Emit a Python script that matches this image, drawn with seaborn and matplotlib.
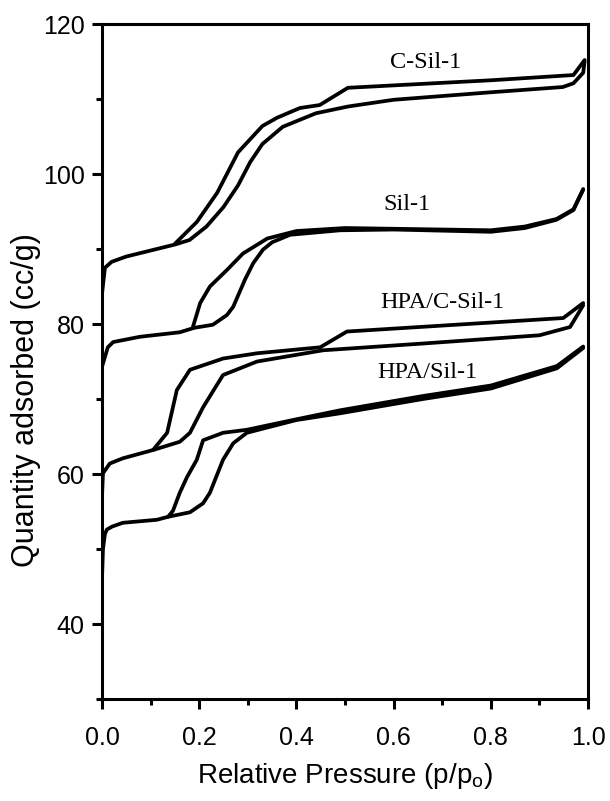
import numpy as np
import pandas as pd
import matplotlib
matplotlib.use("Agg")
import matplotlib.pyplot as plt
import seaborn as sns
from matplotlib.ticker import MultipleLocator

# ---- data ----
csil_ads_p = [0.0, 0.006, 0.02, 0.05, 0.10, 0.15, 0.18, 0.215, 0.25, 0.28, 0.305, 0.33, 0.372, 0.44, 0.506, 0.6, 0.8, 0.948, 0.97, 0.99, 0.993]
csil_ads_q = [84.0, 87.5, 88.3, 89.0, 89.8, 90.6, 91.2, 93.0, 95.6, 98.5, 101.6, 104.0, 106.3, 108.1, 109.0, 109.9, 110.9, 111.6, 112.1, 113.5, 115.0]
csil_des_p = [0.993, 0.97, 0.8, 0.506, 0.448, 0.407, 0.36, 0.33, 0.28, 0.237, 0.195, 0.15]
csil_des_q = [115.2, 113.2, 112.5, 111.5, 109.2, 108.8, 107.5, 106.4, 102.9, 97.5, 93.6, 90.7]

sil_ads_p = [0.0, 0.012, 0.023, 0.078, 0.16, 0.19, 0.228, 0.257, 0.27, 0.294, 0.311, 0.331, 0.35, 0.387, 0.49, 0.6, 0.8, 0.87, 0.935, 0.97, 0.99]
sil_ads_q = [74.3, 76.9, 77.6, 78.3, 78.9, 79.5, 79.9, 81.2, 82.3, 85.9, 88.1, 89.9, 90.9, 91.9, 92.5, 92.6, 92.3, 92.8, 93.9, 95.2, 97.9]
sil_des_p = [0.99, 0.97, 0.935, 0.87, 0.8, 0.6, 0.5, 0.4, 0.34, 0.29, 0.257, 0.222, 0.202, 0.187]
sil_des_q = [98.0, 95.3, 94.0, 93.0, 92.5, 92.7, 92.8, 92.4, 91.4, 89.4, 87.2, 85.0, 82.8, 79.6]

hcsil_ads_p = [0.0, 0.002, 0.016, 0.043, 0.105, 0.16, 0.181, 0.208, 0.249, 0.319, 0.455, 0.66, 0.90, 0.963, 0.99]
hcsil_ads_q = [57.0, 60.1, 61.4, 62.1, 63.2, 64.3, 65.5, 68.9, 73.2, 75.0, 76.5, 77.4, 78.5, 79.6, 82.5]
hcsil_des_p = [0.99, 0.949, 0.504, 0.449, 0.319, 0.249, 0.181, 0.154, 0.134, 0.105]
hcsil_des_q = [82.8, 80.8, 79.0, 76.9, 76.1, 75.4, 73.9, 71.2, 65.5, 63.2]

hsil_ads_p = [0.0, 0.002, 0.006, 0.01, 0.021, 0.043, 0.113, 0.136, 0.181, 0.208, 0.222, 0.249, 0.27, 0.298, 0.4, 0.49, 0.66, 0.8, 0.936, 0.99]
hsil_ads_q = [46.0, 50.0, 52.0, 52.6, 53.0, 53.5, 53.9, 54.3, 54.9, 56.1, 57.5, 61.9, 64.1, 65.5, 67.2, 68.1, 70.0, 71.4, 74.1, 76.8]
hsil_des_p = [0.99, 0.936, 0.8, 0.66, 0.49, 0.4, 0.298, 0.249, 0.208, 0.195, 0.175, 0.16, 0.146, 0.136]
hsil_des_q = [77.0, 74.4, 71.8, 70.4, 68.5, 67.3, 65.9, 65.5, 64.5, 61.9, 59.6, 57.5, 55.1, 54.3]

labels = ["C-Sil-1", "Sil-1", "HPA/C-Sil-1", "HPA/Sil-1"]
label_p = [0.665, 0.628, 0.70, 0.67]
label_q = [114.9, 95.9, 82.9, 73.5]

x_ticks = [0.0, 0.2, 0.4, 0.6, 0.8, 1.0]
y_ticks = [40, 60, 80, 100, 120]

# ---- build long table ----
branches = [
    ("C-Sil-1", "ads", csil_ads_p, csil_ads_q),
    ("C-Sil-1", "des", csil_des_p, csil_des_q),
    ("Sil-1", "ads", sil_ads_p, sil_ads_q),
    ("Sil-1", "des", sil_des_p, sil_des_q),
    ("HPA/C-Sil-1", "ads", hcsil_ads_p, hcsil_ads_q),
    ("HPA/C-Sil-1", "des", hcsil_des_p, hcsil_des_q),
    ("HPA/Sil-1", "ads", hsil_ads_p, hsil_ads_q),
    ("HPA/Sil-1", "des", hsil_des_p, hsil_des_q),
]
frames = []
for s, b, p, q in branches:
    frames.append(pd.DataFrame({"p": p, "q": q, "sample": s, "branch": b, "unit": s + "_" + b}))
df = pd.concat(frames, ignore_index=True)

sns.set_style("ticks")
plt.rcParams["font.family"] = ["Liberation Sans", "DejaVu Sans"]
plt.rcParams["text.color"] = "black"
plt.rcParams["axes.labelcolor"] = "black"
plt.rcParams["xtick.color"] = "black"
plt.rcParams["ytick.color"] = "black"

fig = plt.figure(figsize=(6.10, 8.01), dpi=100)
ax = fig.add_axes([0.1672, 0.1273, 0.7968, 0.8427])

for u, g in df.groupby("unit", sort=False):
    sns.lineplot(data=g, x="p", y="q", sort=False, estimator=None, color="black",
                 linewidth=2.7, ax=ax, legend=False)

for t, xp, yq in zip(labels, label_p, label_q):
    ax.text(xp, yq, t, ha="center", va="center", fontsize=17.5,
            family=["Liberation Serif", "DejaVu Serif"], color="black")

ax.set_xlim(0, 1.0)
ax.set_ylim(30, 120)
ax.set_xticks(x_ticks)
ax.set_yticks(y_ticks)
ax.set_xticklabels([f"{v:.1f}" for v in x_ticks])
ax.set_yticklabels([str(v) for v in y_ticks])
ax.xaxis.set_minor_locator(MultipleLocator(0.1))
ax.yaxis.set_minor_locator(MultipleLocator(10))
ax.tick_params(axis="both", which="major", direction="out", length=7.5, width=2.2,
               labelsize=18, color="black", labelcolor="black")
ax.tick_params(axis="x", which="major", pad=12)
ax.tick_params(axis="y", which="major", pad=5)
ax.tick_params(axis="both", which="minor", direction="out", length=4, width=2.2, color="black")
ax.tick_params(top=False, right=False)
for sp in ax.spines.values():
    sp.set_visible(True)
    sp.set_linewidth(2.2)
    sp.set_color("black")

ax.set_xlabel("Relative Pressure (p/p$_\\mathregular{o}$)", fontsize=20, labelpad=8)
ax.set_ylabel("")
fig.text(26 / 610, 1 - 400 / 801, "Quantity adsorbed (cc/g)", rotation=90,
         ha="center", va="center", fontsize=22, color="black")

fig.savefig("out.png", dpi=100)
